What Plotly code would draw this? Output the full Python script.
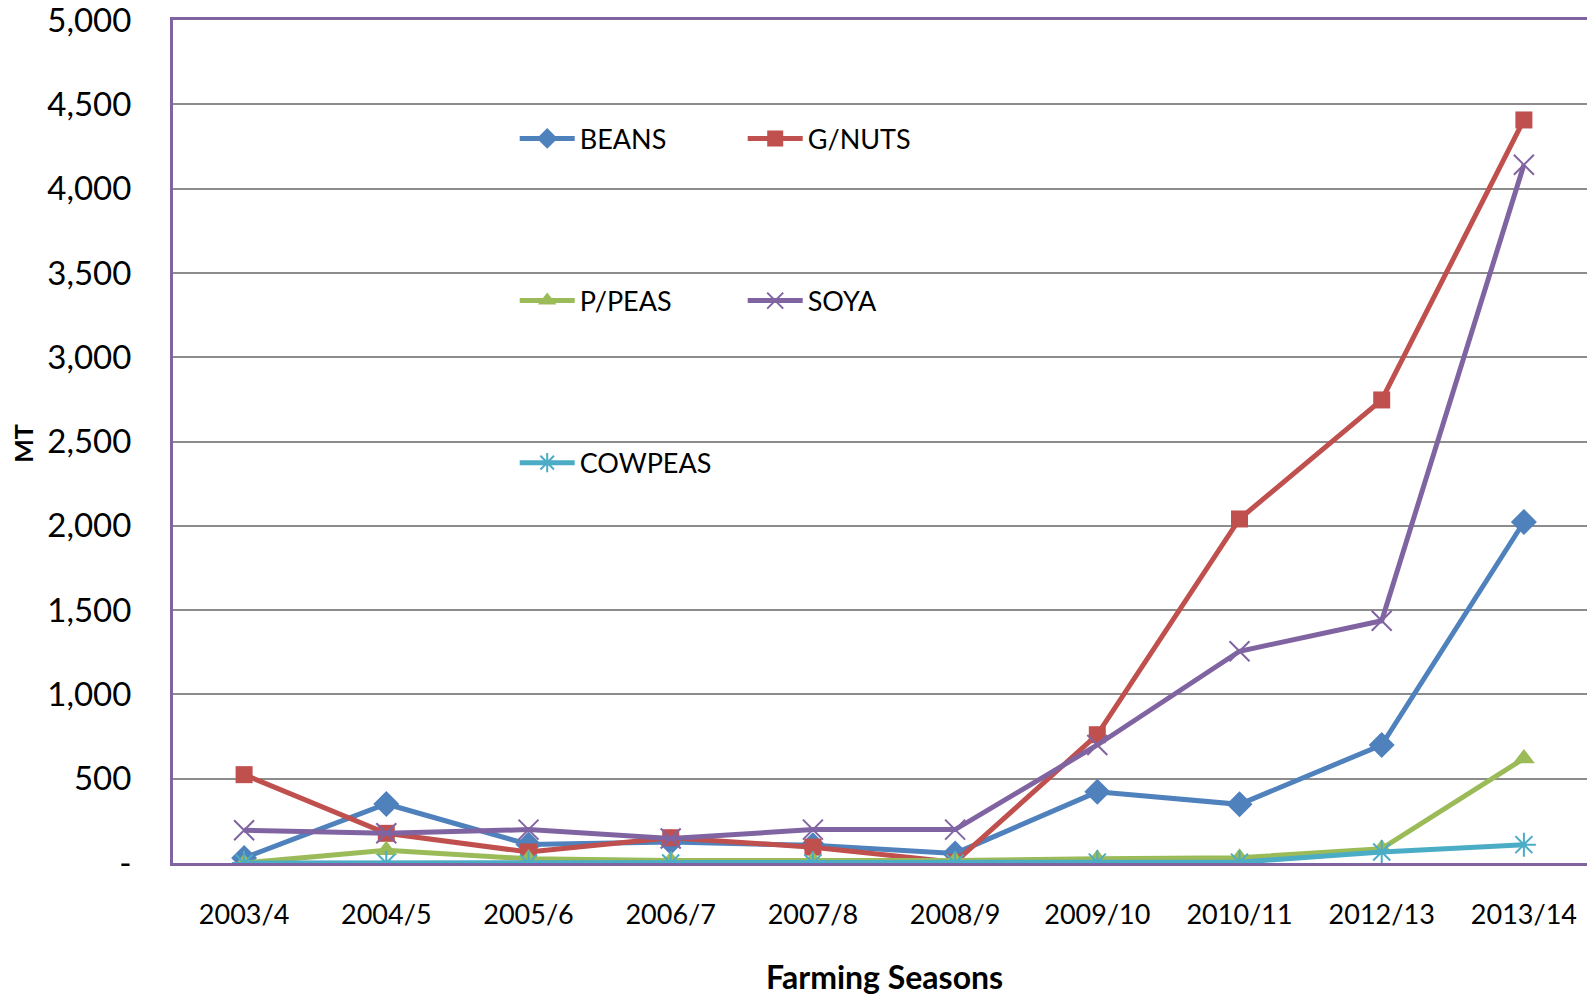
import plotly.graph_objects as go

seasons = ["2003/4", "2004/5", "2005/6", "2006/7", "2007/8", "2008/9",
           "2009/10", "2010/11", "2012/13", "2013/14"]
beans = [30, 350, 110, 124, 105, 57, 422, 348, 700, 2023]
gnuts = [524, 176, 65, 150, 94, 5, 761, 2041, 2747, 4408]
ppeas = [0, 75, 25, 15, 15, 15, 25, 31, 85, 620]
soya = [194, 176, 198, 145, 198, 198, 700, 1256, 1437, 4142]
cowpeas = [0, 0, 0, 0, 0, 0, 5, 5, 65, 109]

y_tickvals = [0, 500, 1000, 1500, 2000, 2500, 3000, 3500, 4000, 4500, 5000]
y_ticktext = ["-", "500", "1,000", "1,500", "2,000", "2,500", "3,000",
              "3,500", "4,000", "4,500", "5,000"]

FONT = "Lato"

series = [
    ("BEANS", beans, "#4F81BD", "diamond", 20, "legend"),
    ("G/NUTS", gnuts, "#C0504D", "square", 17, "legend"),
    ("P/PEAS", ppeas, "#9BBB59", "triangle-up", 19, "legend2"),
    ("SOYA", soya, "#8064A2", "x-thin-open", 20, "legend2"),
    ("COWPEAS", cowpeas, "#4BACC6", "asterisk-open", 20, "legend3"),
]

fig = go.Figure()
for name, vals, color, sym, size, leg in series:
    open_sym = sym.endswith("open")
    fig.add_trace(go.Scatter(
        x=seasons, y=vals, name=name, mode="lines+markers",
        line=dict(color=color, width=5),
        marker=dict(symbol=sym, size=size, color=color,
                    line=dict(color=color, width=2 if open_sym else 0)),
        legend=leg,
    ))

leg_common = dict(orientation="h", xanchor="left", yanchor="middle",
                  bgcolor="rgba(0,0,0,0)", itemwidth=55, entrywidth=158,
                  font=dict(family=FONT, size=27, color="black"))

LX = 0.2403

fig.update_layout(
    width=1587, height=988,
    margin=dict(l=165, r=0, t=12, b=133),
    paper_bgcolor="white", plot_bgcolor="white",
    font=dict(family=FONT, color="black"),
    legend=dict(x=LX, y=0.859, **leg_common),
    legend2=dict(x=LX, y=0.6666, **leg_common),
    legend3=dict(x=LX, y=0.4744, **leg_common),
    xaxis=dict(
        type="category", range=[-0.5, 9.5], automargin=False,
        showline=True, linecolor="#8064A2", linewidth=3, mirror=True,
        showgrid=False, ticks="", ticklabelstandoff=26,
        tickfont=dict(family=FONT, size=27, color="black"),
    ),
    yaxis=dict(
        range=[0, 5001], tickvals=y_tickvals, ticktext=y_ticktext,
        automargin=False,
        showline=True, linecolor="#8064A2", linewidth=3, mirror=True,
        showgrid=True, gridcolor="#8C8C8C", gridwidth=2,
        zeroline=False, ticks="", ticklabelstandoff=32,
        ticklabeloverflow="allow",
        tickfont=dict(family=FONT, size=33, color="black"),
    ),
    annotations=[
        dict(text="<b>MT</b>", xref="paper", yref="paper", x=-0.106, y=0.4976,
             xanchor="center", yanchor="middle", textangle=-90, showarrow=False,
             font=dict(family=FONT, size=25, color="black")),
        dict(text="<b>Farming Seasons</b>", xref="paper", yref="paper",
             x=0.5003, y=-0.135, xanchor="center", yanchor="middle",
             showarrow=False, font=dict(family=FONT, size=32, color="black")),
    ],
)

fig.write_html("out.html")
